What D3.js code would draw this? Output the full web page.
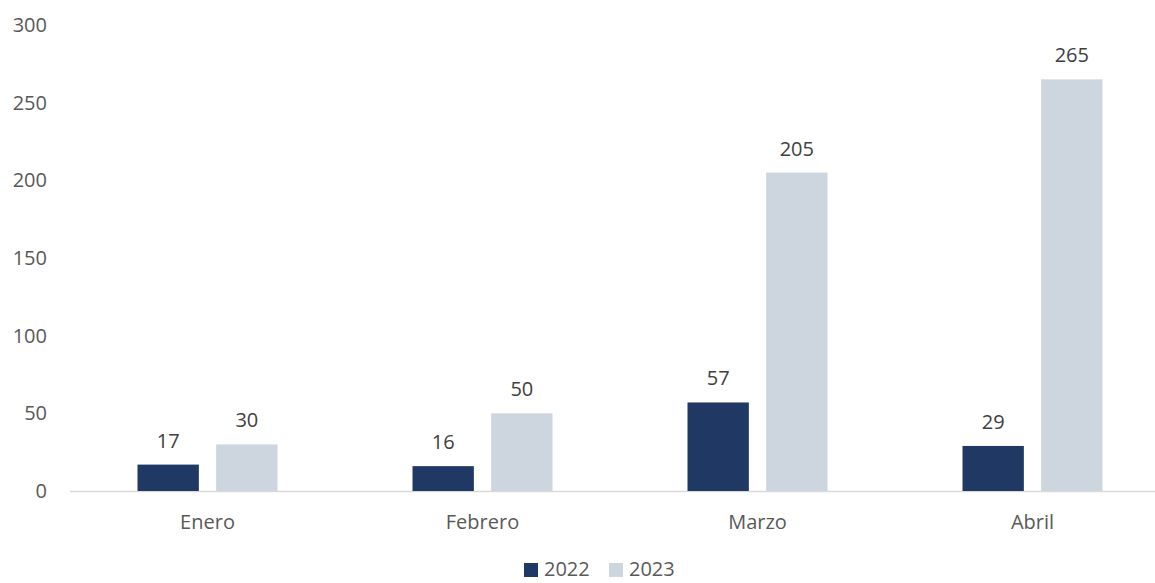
<!DOCTYPE html>
<html><head><meta charset="utf-8">
<script src="https://cdn.jsdelivr.net/npm/d3@7"></script>
<style>body{margin:0;background:#fff}text{font-family:"Open Sans",sans-serif}</style>
</head><body><svg id="c" width="1155" height="583"></svg>
<script>
const categories = ["Enero","Febrero","Marzo","Abril"];
const seriesNames = ["2022","2023"];
const values2022 = [17,16,57,29];
const values2023 = [30,50,205,265];
const yTicks = [0,50,100,150,200,250,300];
const colors = ["#203864","#cdd5df"];

const svg = d3.select("#c");
const x0 = d3.scaleBand().domain(categories).range([70,1170]).paddingInner(0).paddingOuter(0);
const x1 = d3.scaleBand().domain(seriesNames).range([x0.bandwidth()/2-70, x0.bandwidth()/2+70]).paddingInner(0.22).paddingOuter(0);
const y = d3.scaleLinear().domain([0,300]).range([491,25]);

// y axis labels
const yAxis = d3.axisLeft(y).tickValues(yTicks).tickSize(0).tickPadding(0);
const gy = svg.append("g").attr("transform","translate(47,0)").call(yAxis);
gy.select(".domain").remove();
gy.selectAll("text").attr("font-size",20).attr("fill","#595959").attr("font-family","Open Sans, sans-serif");

// baseline
svg.append("line").attr("x1",70).attr("x2",1155).attr("y1",y(0)+0.5).attr("y2",y(0)+0.5).attr("stroke","#d9d9d9").attr("stroke-width",1.5);

const data = categories.map((c,i)=>({cat:c, vals:[values2022[i], values2023[i]]}));
const g = svg.append("g");
data.forEach(d=>{
  d.vals.forEach((v,j)=>{
    const xs = x0(d.cat)+x1(seriesNames[j]);
    g.append("rect").attr("x",xs).attr("width",x1.bandwidth()).attr("y",y(v)).attr("height",y(0)-y(v)).attr("fill",colors[j]);
    g.append("text").attr("x",xs+x1.bandwidth()/2).attr("y",y(v)-17).attr("text-anchor","middle")
      .attr("font-size",20).attr("fill","#404040").text(v);
  });
});

// x axis labels
const xAxis = d3.axisBottom(x0).tickSize(0).tickPadding(0);
const gx = svg.append("g").attr("transform","translate(0,515)").call(xAxis);
gx.select(".domain").remove();
gx.selectAll("text").attr("font-size",20).attr("fill","#595959").attr("font-family","Open Sans, sans-serif").attr("dy","0.71em");

// legend
const legendX = [524,609];
seriesNames.forEach((s,j)=>{
  svg.append("rect").attr("x",legendX[j]).attr("y",563).attr("width",14).attr("height",14).attr("fill",colors[j]);
  svg.append("text").attr("x",legendX[j]+20).attr("y",576).attr("font-size",20).attr("fill","#595959").text(s);
});
</script></body></html>
